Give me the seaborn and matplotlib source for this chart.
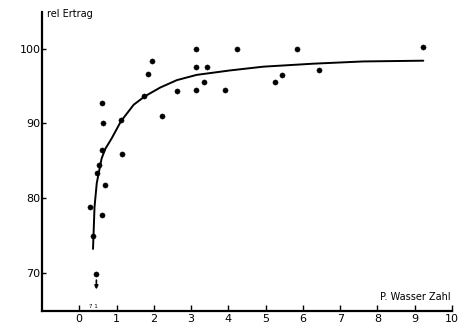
import numpy as np
import pandas as pd
import matplotlib
matplotlib.use('Agg')
import matplotlib.pyplot as plt
import seaborn as sns

# measured points (P. Wasser Zahl, rel Ertrag)
wasser_zahl = [0.30, 0.37, 0.46, 0.48, 0.54, 0.61, 0.62, 0.62, 0.65, 0.68,
               1.12, 1.15, 1.75, 1.84, 1.96, 2.23, 2.63, 3.14, 3.14, 3.14,
               3.34, 3.42, 3.92, 4.23, 5.24, 5.43, 5.83, 6.43, 9.23]
rel_ertrag = [78.8, 74.9, 69.9, 83.4, 84.4, 86.4, 92.8, 77.7, 90.1, 81.8,
              90.5, 85.9, 93.7, 96.6, 98.4, 91.0, 94.4, 100.0, 97.5, 94.5,
              95.5, 97.6, 94.5, 99.9, 95.6, 96.5, 100.0, 97.1, 100.2]

# fitted curve
curve_x = [0.37, 0.41, 0.47, 0.54, 0.60, 0.70, 0.87, 1.12, 1.46, 1.75,
           2.17, 2.62, 3.15, 4.05, 4.94, 6.28, 7.62, 9.23]
curve_y = [73.2, 78.8, 82.0, 83.8, 85.3, 86.6, 88.0, 90.3, 92.5, 93.6,
           94.8, 95.8, 96.5, 97.1, 97.6, 98.0, 98.3, 98.4]

x_ticks = [0, 1, 2, 3, 4, 5, 6, 7, 8, 9, 10]
y_ticks = [70, 80, 90, 100]

points = pd.DataFrame({'x': wasser_zahl, 'y': rel_ertrag})
curve = pd.DataFrame({'x': curve_x, 'y': curve_y})

sns.set_style('white', {'xtick.bottom': True, 'ytick.left': True,
                        'text.color': 'black', 'xtick.color': 'black',
                        'ytick.color': 'black', 'axes.edgecolor': 'black'})
plt.rcParams['font.family'] = ['DejaVu Sans']

fig = plt.figure(figsize=(4.61, 3.28), dpi=100)
ax = fig.add_axes([0.091, 0.052, 0.8895, 0.911])

sns.lineplot(data=curve, x='x', y='y', color='black', linewidth=1.4, ax=ax, sort=True)
sns.scatterplot(data=points, x='x', y='y', color='black', s=14, edgecolor='black', ax=ax)

# arrow below the lowest point
ax.annotate('', xy=(0.46, 67.4), xytext=(0.46, 69.4),
            arrowprops=dict(arrowstyle='-|>', color='black', lw=1.2, mutation_scale=5))
ax.text(0.37, 65.5, '7 1', fontsize=4, ha='center', va='center')

ax.set_xlim(-1, 10)
ax.set_ylim(64.9, 104.9)
ax.set_xticks(x_ticks)
ax.set_yticks(y_ticks)
ax.set_xticklabels([str(t) for t in x_ticks], fontsize=8)
ax.set_yticklabels([str(t) for t in y_ticks], fontsize=8)
ax.tick_params(axis='x', direction='in', length=4, width=1, pad=2, colors='black')
ax.tick_params(axis='y', direction='in', length=3, width=1, pad=1, colors='black')
ax.set_xlabel('')
ax.set_ylabel('')

for side in ['top', 'right']:
    ax.spines[side].set_visible(False)
for side in ['left', 'bottom']:
    ax.spines[side].set_linewidth(1.6)
    ax.spines[side].set_color('black')

ax.text(-0.87, 104.6, 'rel Ertrag', fontsize=7, ha='left', va='center')
ax.text(9.95, 66.8, 'P. Wasser Zahl', fontsize=7, ha='right', va='center')

fig.savefig('out.png', dpi=100)
